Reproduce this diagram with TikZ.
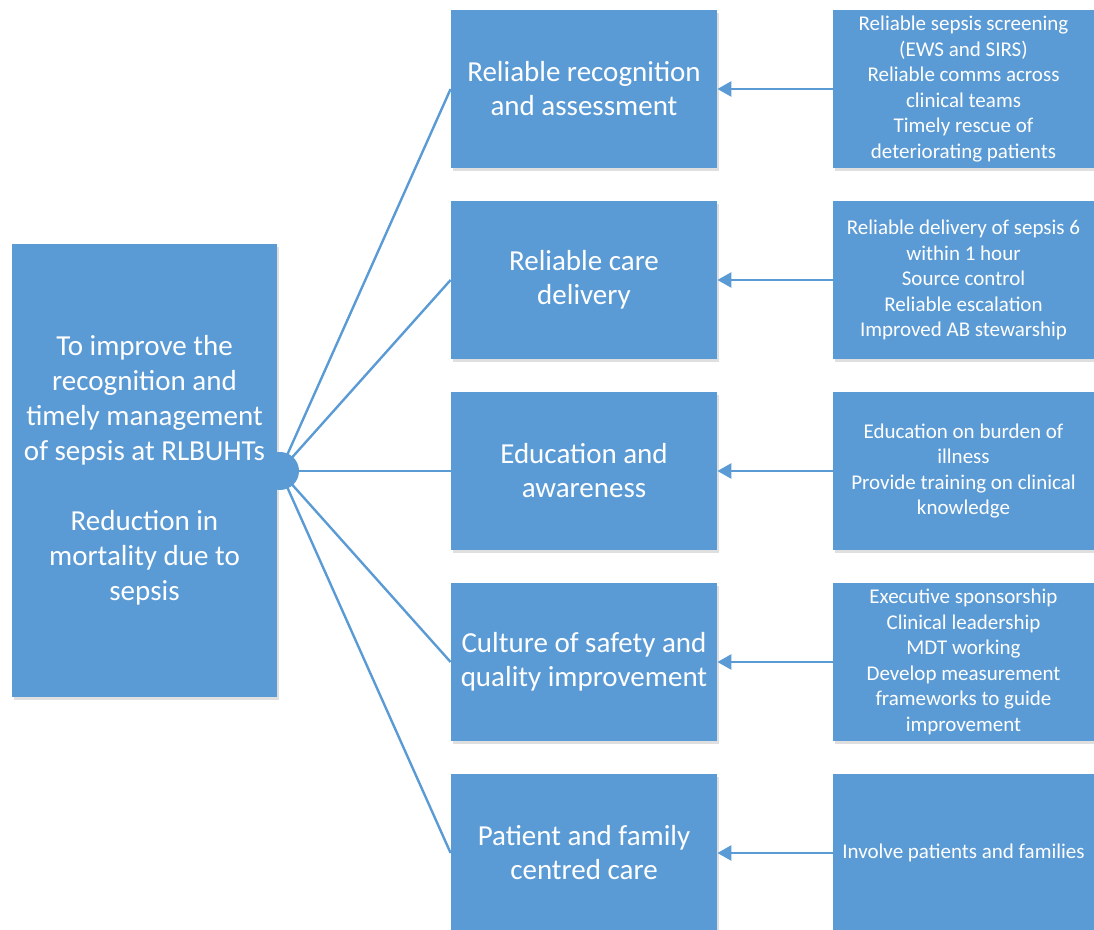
\documentclass[tikz,border=0pt]{standalone}
\usepackage{fontspec}
\setmainfont{Carlito}
\usetikzlibrary{arrows.meta,shadows}
\definecolor{boxblue}{RGB}{91,155,213}
\tikzset{
	blockshadow/.style={drop shadow={shadow xshift=1.2pt, shadow yshift=-1.5pt, opacity=0.25, fill=black!50}},
	goalbox/.style={rectangle, fill=boxblue, text=white, align=center, inner sep=0pt, minimum width=132.5pt, minimum height=226.5pt, font=\fontsize{14.5}{17.5}\selectfont, blockshadow},
	driverbox/.style={rectangle, fill=boxblue, text=white, align=center, inner sep=0pt, minimum width=133pt, minimum height=79pt, font=\fontsize{14.5}{17}\selectfont, blockshadow},
	actionbox/.style={rectangle, fill=boxblue, text=white, align=center, inner sep=0pt, minimum width=130.5pt, minimum height=79pt, font=\fontsize{10.5}{12.75}\selectfont, blockshadow},
	spoke/.style={draw=boxblue, line width=1.2pt},
	feed/.style={draw=boxblue, line width=1.3pt, -{Triangle[length=7pt,width=7.5pt]}},
}
\begin{document}
\begin{tikzpicture}[x=0.5pt,y=-0.5pt]
	\clip (0,0) rectangle (1094,930);
	\node[goalbox] (goal) at (144.5,470.5) {To improve the\\recognition and\\timely management\\of sepsis at RLBUHTs\\[17.5pt]Reduction in\\mortality due to\\sepsis};
	\node[driverbox] (recog) at (584,89) {Reliable recognition\\and assessment};
	\node[driverbox] (care) at (584,280) {Reliable care\\delivery};
	\node[driverbox] (edu) at (584,471) {Education and\\awareness};
	\node[driverbox] (safety) at (584,662) {Culture of safety and\\quality improvement};
	\node[driverbox] (family) at (584,853) {Patient and family\\centred care};
	\node[actionbox] (screen) at (963.5,89) {Reliable sepsis screening\\(EWS and SIRS)\\Reliable comms across\\clinical teams\\Timely rescue of\\deteriorating patients};
	\node[actionbox] (bundle) at (963.5,280) {Reliable delivery of sepsis 6\\within 1 hour\\Source control\\Reliable escalation\\Improved AB stewarship};
	\node[actionbox] (train) at (963.5,471) {Education on burden of\\illness\\Provide training on clinical\\knowledge};
	\node[actionbox] (lead) at (963.5,662) {Executive sponsorship\\Clinical leadership\\MDT working\\Develop measurement\\frameworks to guide\\improvement};
	\node[actionbox] (involve) at (963.5,853) {Involve patients and families};
	\coordinate (hub) at (280,471);
	\draw[spoke] (hub) -- (recog.west);
	\draw[spoke] (hub) -- (care.west);
	\draw[spoke] (hub) -- (edu.west);
	\draw[spoke] (hub) -- (safety.west);
	\draw[spoke] (hub) -- (family.west);
	\fill[boxblue] (hub) circle (9.5pt);
	\draw[feed] (screen.west) -- (recog.east);
	\draw[feed] (bundle.west) -- (care.east);
	\draw[feed] (train.west) -- (edu.east);
	\draw[feed] (lead.west) -- (safety.east);
	\draw[feed] (involve.west) -- (family.east);
\end{tikzpicture}
\end{document}
